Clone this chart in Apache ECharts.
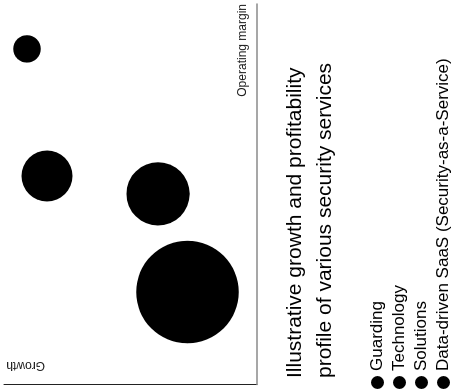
<!DOCTYPE html>
<html>
<head>
<meta charset="utf-8">
<script src="https://cdn.jsdelivr.net/npm/echarts@6/dist/echarts.min.js"></script>
<style>
  html, body { margin: 0; padding: 0; width: 455px; height: 392px; overflow: hidden; background: #fff; }
  /* The chart is laid out upright and then turned a quarter turn counter-clockwise. */
  #chart {
    position: absolute; left: 0; top: 0;
    width: 392px; height: 455px;
    transform-origin: 0 0;
    transform: translate(0, 392px) rotate(-90deg);
  }
</style>
</head>
<body>
<div id="chart"></div>
<script>
// Service categories, in legend order
const serviceNames = ['Guarding', 'Technology', 'Solutions', 'Data-driven SaaS (Security-as-a-Service)'];
// Relative operating margin (0–100 scale)
const operatingMargin = [24.3, 54.8, 50.1, 88.2];
// Relative growth (0–100 scale)
const growth = [27.5, 83.0, 39.1, 90.9];
// Relative market size, drawn as bubble area
const marketSize = [105, 26, 40, 7.5];

const titleLines = ['Illustrative growth and profitability', 'profile of various security services'];
const xAxisName = 'Operating margin';
const yAxisName = 'Growth';

const FONT = '"Liberation Sans", Arial, Helvetica, sans-serif';

const chart = echarts.init(document.getElementById('chart'));

const series = serviceNames.map((name, i) => ({
  name: name,
  type: 'scatter',
  data: [[operatingMargin[i], growth[i], marketSize[i]]],
  symbol: 'circle',
  symbolSize: d => Math.sqrt(d[2]) * 10,
  itemStyle: { color: '#000', opacity: 1 },
  emphasis: { disabled: true },
  silent: true
}));

chart.setOption({
  animation: false,
  backgroundColor: '#fff',
  textStyle: { fontFamily: FONT },
  title: {
    text: titleLines.join('\n'),
    left: 14,
    top: 280,
    padding: 0,
    textStyle: { fontSize: 21, fontWeight: 'normal', color: '#000', lineHeight: 30, fontFamily: FONT }
  },
  legend: {
    data: serviceNames,
    orient: 'vertical',
    left: 3,
    top: 369,
    padding: 0,
    itemWidth: 13,
    itemHeight: 13,
    itemGap: 5,
    icon: 'circle',
    selectedMode: false,
    textStyle: { fontSize: 17, color: '#000', fontFamily: FONT }
  },
  grid: { left: 7.5, right: 4, top: 4, bottom: 198, containLabel: false },
  xAxis: {
    type: 'value',
    min: 0,
    max: 100,
    name: xAxisName,
    nameLocation: 'end',
    nameGap: 0,
    nameTextStyle: { fontSize: 12, color: '#222', align: 'right', verticalAlign: 'bottom', padding: [0, 0, 8, 0], fontFamily: FONT },
    axisLine: { show: true, onZero: false, lineStyle: { color: '#8a8a8a', width: 1.5 } },
    axisTick: { show: false },
    axisLabel: { show: false },
    splitLine: { show: false }
  },
  yAxis: {
    type: 'value',
    min: 0,
    max: 100,
    name: yAxisName,
    nameLocation: 'end',
    nameRotate: 90,
    nameGap: -41,
    nameTextStyle: { fontSize: 12, color: '#222', align: 'left', verticalAlign: 'top', padding: [13, 0, 0, 0], fontFamily: FONT },
    axisLine: { show: true, onZero: false, lineStyle: { color: '#222', width: 1 } },
    axisTick: { show: false },
    axisLabel: { show: false },
    splitLine: { show: false }
  },
  series: series
});
</script>
</body>
</html>
